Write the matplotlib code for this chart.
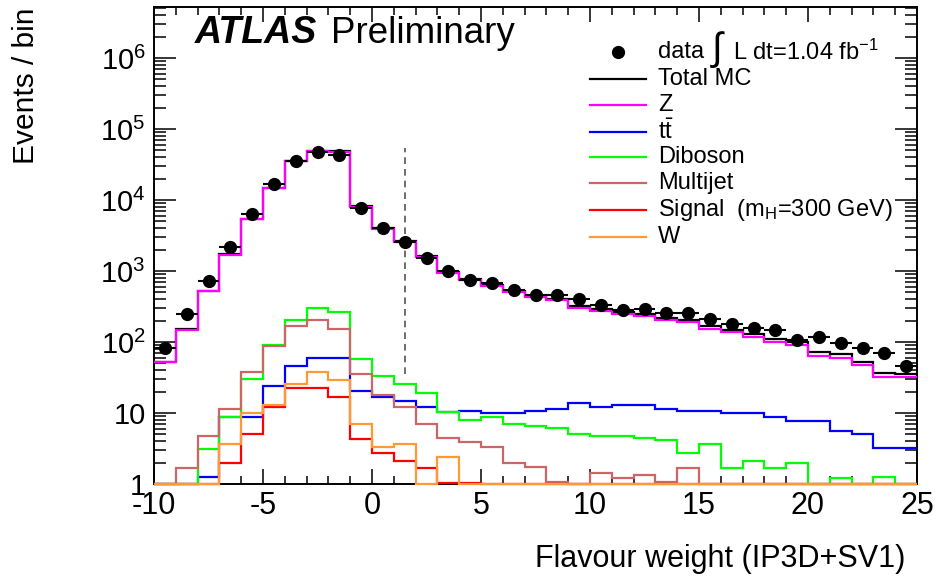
import numpy as np
import matplotlib
matplotlib.use("Agg")
import matplotlib.pyplot as plt
from matplotlib.ticker import FixedLocator, MultipleLocator, LogLocator, FuncFormatter, NullFormatter

plt.rcParams['font.family'] = ['Liberation Sans', 'DejaVu Sans']
plt.rcParams['mathtext.fontset'] = 'custom'
plt.rcParams['mathtext.rm'] = 'Liberation Sans'
plt.rcParams['mathtext.it'] = 'Liberation Sans:italic'
plt.rcParams['mathtext.bf'] = 'Liberation Sans:bold'

# binning: 35 unit-wide bins of the tagger weight
edges = np.arange(-10, 26, 1)
centers = edges[:-1] + 0.5

data = [82, 248, 725, 2150, 6400, 16800, 35700, 47200, 43000, 7700,
        4000, 2560, 1525, 1000, 745, 675, 540, 460, 455, 403,
        332, 282, 292, 256, 256, 211, 179, 157, 148, 107,
        117, 97, 82, 70, 46]

z_jets = [53, 149, 520, 1680, 5370, 14600, 35000, 48500, 48000, 8000,
          3950, 2600, 1600, 930, 745, 613, 505, 430, 392, 301,
          273, 248, 232, 204, 191, 152, 138, 117, 100, 91,
          64, 60, 47, 32, 32]

ttbar = [0, 0, 1.27, 8.9, 8.9, 24, 46, 59, 59, 20.4,
         17, 14.8, 12.3, 10.4, 10.6, 10.1, 10.1, 10.6, 11.3, 13.7,
         12, 13, 13, 11.4, 10.7, 10.7, 10, 10, 8.9, 7.8,
         7.8, 5.6, 5.1, 3.2, 3.2]

diboson = [0, 0, 3.1, 8.9, 30, 91, 204, 298, 262, 58,
           33, 26, 19, 10.4, 8.0, 8.9, 6.9, 6.5, 6.1, 5.1,
           4.7, 4.7, 4.4, 4.2, 2.76, 3.7, 1.7, 2.13, 1.7, 1.96,
           0, 1.2, 0, 1.27, 0]

multijet = [0, 1.7, 4.7, 11.5, 38, 87, 170, 204, 151, 35,
            17.9, 12.3, 6.9, 4.4, 3.9, 3.3, 1.96, 1.75, 1.07, 0,
            1.44, 1.2, 1.34, 1.07, 1.66, 0, 0, 0, 0, 0,
            0, 0, 0, 0, 0]

signal = [0, 0, 0, 2.0, 5.1, 12.3, 22.7, 22.7, 17, 4.3,
          2.76, 2.1, 1.66, 1.03, 1.04, 0, 0, 0, 0, 0,
          0, 0, 0, 0, 0, 0, 0, 0, 0, 0,
          0, 0, 0, 0, 0]

w_jets = [0, 0, 0, 3.7, 10, 13, 25.3, 38, 29, 6.9,
          3.3, 3.7, 0, 2.4, 0, 0, 0, 0, 0, 0,
          0, 0, 0, 0, 0, 0, 0, 0, 0, 0,
          0, 0, 0, 0, 0]

total_mc = (np.array(z_jets) + np.array(ttbar) + np.array(diboson)
            + np.array(multijet) + np.array(w_jets))

tag_cut = 1.5
cut_line_range = [36, 54000]

fig = plt.figure(figsize=(9.39, 5.76), dpi=100)
W, H = 939.0, 576.0
ax = fig.add_axes([154 / W, 1 - 484 / H, 763 / W, 477 / H])

ymin = 1.0
series = [
    (total_mc, 'black', 'Total MC'),
    (z_jets, '#ff00ff', 'Z'),
    (ttbar, '#0000ff', r'$\mathrm{t\bar{t}}$'),
    (diboson, '#00ff00', 'Diboson'),
    (multijet, '#cc6666', 'Multijet'),
    (signal, '#ff0000', r'Signal  (m$_{\mathrm{H}}$=300 GeV)'),
    (w_jets, '#ff9933', 'W'),
]
for vals, col, lab in series:
    v = np.clip(np.asarray(vals, dtype=float), ymin, None)  # empty bins sit on the axis
    ax.stairs(v, edges, baseline=None, color=col, lw=1.6, zorder=3, clip_on=False)

ax.errorbar(centers, data, xerr=0.5, yerr=np.sqrt(data), fmt='o', color='black',
            ms=8.5, elinewidth=1.5, capsize=0, zorder=5)

ax.plot([tag_cut, tag_cut], cut_line_range, ls=(0, (4, 3)), color='#555555', lw=1.2, zorder=4)

ax.set_yscale('log')
ax.set_xlim(-10, 25)
ax.set_ylim(ymin, 10 ** 6.72)

ax.xaxis.set_major_locator(MultipleLocator(5))
ax.xaxis.set_minor_locator(MultipleLocator(1))
ax.yaxis.set_major_locator(FixedLocator([1, 10, 1e2, 1e3, 1e4, 1e5, 1e6]))
ax.yaxis.set_minor_locator(LogLocator(base=10, subs=np.arange(2, 10)))
ax.yaxis.set_minor_formatter(NullFormatter())


def ylab(v, pos):
    if v < 5:
        return '1'
    if v < 50:
        return '10'
    return r'$10^{%d}$' % int(round(np.log10(v)))


ax.yaxis.set_major_formatter(FuncFormatter(ylab))
ax.xaxis.set_major_formatter(FuncFormatter(lambda v, p: '%d' % v))

ax.tick_params(axis='both', which='both', direction='in', top=True, right=True, width=1.1)
ax.tick_params(axis='x', which='major', length=11, labelsize=22, pad=5)
ax.tick_params(axis='x', which='minor', length=5.5)
ax.tick_params(axis='y', which='major', length=16, labelsize=21, pad=6)
ax.tick_params(axis='y', which='minor', length=8.5)
for sp in ax.spines.values():
    sp.set_linewidth(1.4)

fig.text(905 / W, 1 - 567 / H, 'Flavour weight (IP3D+SV1)', fontsize=22, ha='right', va='baseline')
fig.text(26 / W, 1 - 7 / H, 'Events / bin', fontsize=21.5, rotation=90, ha='center', va='top')

# experiment label
fig.text(195 / W, 1 - 43 / H, 'ATLAS', fontsize=27, fontweight='bold', fontstyle='italic', va='baseline')
fig.text(331 / W, 1 - 43 / H, 'Preliminary', fontsize=26.5, va='baseline')

# legend drawn by hand, one row per sample
leg_fs = 17
fig.lines.append(plt.Line2D([618 / W], [1 - 52 / H], marker='o', ms=8.5, color='black',
                            transform=fig.transFigure, figure=fig))
fig.text(658 / W, 1 - 52 / H, 'data', fontsize=leg_fs, va='center')
fig.text(710 / W, 1 - 50 / H, r'$\int$', fontsize=28, va='center')
fig.text(733 / W, 1 - 52 / H, r'L dt=1.04 fb$^{-1}$', fontsize=leg_fs, va='center')
rows = [79, 105, 132, 157, 183, 210, 237]
for (vals, col, lab), py in zip(series, rows):
    fig.lines.append(plt.Line2D([590 / W, 646 / W], [1 - py / H, 1 - py / H], color=col, lw=1.6,
                                transform=fig.transFigure, figure=fig))
    fig.text(658 / W, 1 - py / H, lab, fontsize=leg_fs, va='center')

fig.savefig('out.png', dpi=100)
